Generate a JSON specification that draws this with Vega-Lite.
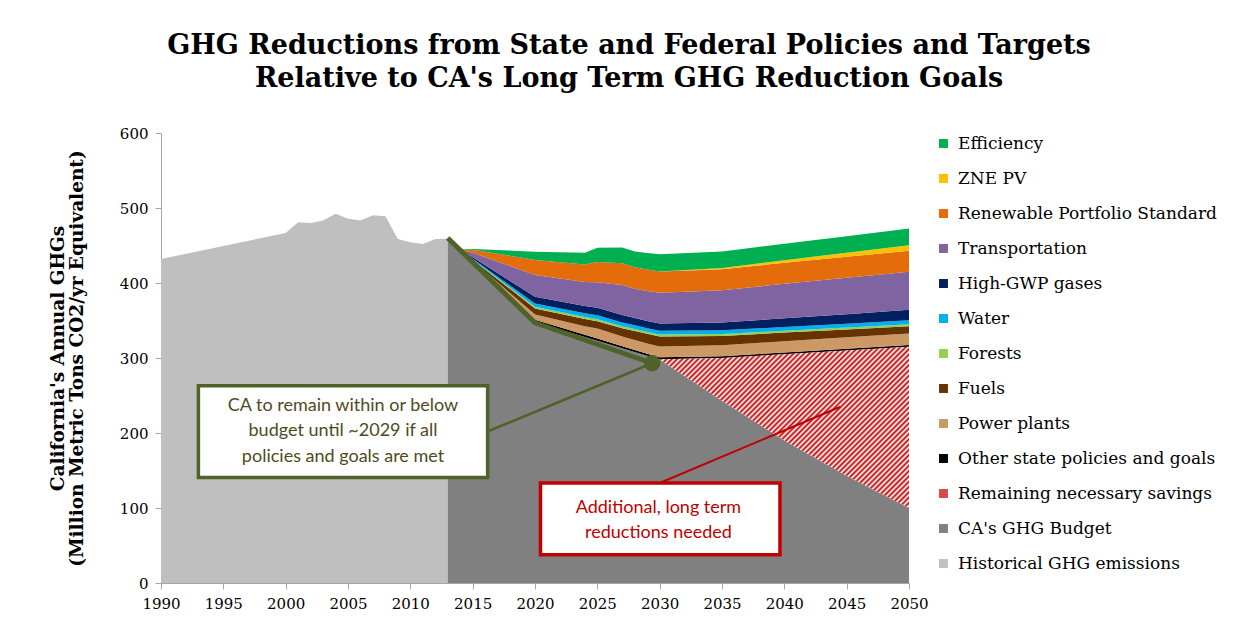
{
  "$schema": "https://vega.github.io/schema/vega-lite/v6.json",
  "width": 748,
  "height": 450,
  "autosize": {"type": "none"},
  "padding": {"left": 161, "top": 133, "right": 334, "bottom": 60},
  "background": "white",
  "config": {"view": {"stroke": null}, "font": "DejaVu Serif"},
  "title": {
    "text": ["GHG Reductions from State and Federal Policies and Targets", "Relative to CA's Long Term GHG Reduction Goals"],
    "font": "DejaVu Serif", "fontSize": 27, "fontWeight": "bold", "color": "#000",
    "anchor": "middle", "dx": 94, "offset": 33, "lineHeight": 33
  },
  "datasets": {
    "history": [
      {"year": 1990, "v": 432, "cat": "Historical GHG emissions"},
      {"year": 2000, "v": 466.7, "cat": "Historical GHG emissions"},
      {"year": 2001, "v": 481, "cat": "Historical GHG emissions"},
      {"year": 2002, "v": 480, "cat": "Historical GHG emissions"},
      {"year": 2003, "v": 483.5, "cat": "Historical GHG emissions"},
      {"year": 2004, "v": 492.4, "cat": "Historical GHG emissions"},
      {"year": 2005, "v": 485.7, "cat": "Historical GHG emissions"},
      {"year": 2006, "v": 483.5, "cat": "Historical GHG emissions"},
      {"year": 2007, "v": 490.2, "cat": "Historical GHG emissions"},
      {"year": 2008, "v": 488.9, "cat": "Historical GHG emissions"},
      {"year": 2009, "v": 458.7, "cat": "Historical GHG emissions"},
      {"year": 2010, "v": 454.2, "cat": "Historical GHG emissions"},
      {"year": 2011, "v": 452, "cat": "Historical GHG emissions"},
      {"year": 2012, "v": 458.7, "cat": "Historical GHG emissions"},
      {"year": 2013, "v": 459, "cat": "Historical GHG emissions"}
    ],
    "proj": [
      {"year": 2013, "cat": "CA's GHG Budget", "v": 459},
      {"year": 2014, "cat": "CA's GHG Budget", "v": 443},
      {"year": 2015, "cat": "CA's GHG Budget", "v": 428},
      {"year": 2020, "cat": "CA's GHG Budget", "v": 348},
      {"year": 2024, "cat": "CA's GHG Budget", "v": 328},
      {"year": 2025, "cat": "CA's GHG Budget", "v": 323},
      {"year": 2027, "cat": "CA's GHG Budget", "v": 313},
      {"year": 2028, "cat": "CA's GHG Budget", "v": 308},
      {"year": 2029, "cat": "CA's GHG Budget", "v": 303},
      {"year": 2030, "cat": "CA's GHG Budget", "v": 298},
      {"year": 2035, "cat": "CA's GHG Budget", "v": 243},
      {"year": 2040, "cat": "CA's GHG Budget", "v": 190},
      {"year": 2045, "cat": "CA's GHG Budget", "v": 143},
      {"year": 2050, "cat": "CA's GHG Budget", "v": 100},
      {"year": 2029, "cat": "Remaining necessary savings", "v": 0},
      {"year": 2030, "cat": "Remaining necessary savings", "v": 0.5},
      {"year": 2035, "cat": "Remaining necessary savings", "v": 57},
      {"year": 2040, "cat": "Remaining necessary savings", "v": 115},
      {"year": 2045, "cat": "Remaining necessary savings", "v": 167},
      {"year": 2050, "cat": "Remaining necessary savings", "v": 215},
      {"year": 2013, "cat": "Other state policies and goals", "v": 0},
      {"year": 2014, "cat": "Other state policies and goals", "v": 0.2},
      {"year": 2015, "cat": "Other state policies and goals", "v": 0.5},
      {"year": 2020, "cat": "Other state policies and goals", "v": 3},
      {"year": 2024, "cat": "Other state policies and goals", "v": 3},
      {"year": 2025, "cat": "Other state policies and goals", "v": 3},
      {"year": 2027, "cat": "Other state policies and goals", "v": 2.8},
      {"year": 2028, "cat": "Other state policies and goals", "v": 2.7},
      {"year": 2029, "cat": "Other state policies and goals", "v": 2.6},
      {"year": 2030, "cat": "Other state policies and goals", "v": 2.6},
      {"year": 2035, "cat": "Other state policies and goals", "v": 2.5},
      {"year": 2040, "cat": "Other state policies and goals", "v": 2.4},
      {"year": 2045, "cat": "Other state policies and goals", "v": 2.3},
      {"year": 2050, "cat": "Other state policies and goals", "v": 2.2},
      {"year": 2013, "cat": "Power plants", "v": 0},
      {"year": 2014, "cat": "Power plants", "v": 0.2},
      {"year": 2015, "cat": "Power plants", "v": 1.3},
      {"year": 2020, "cat": "Power plants", "v": 7},
      {"year": 2024, "cat": "Power plants", "v": 11.5},
      {"year": 2025, "cat": "Power plants", "v": 13.3},
      {"year": 2027, "cat": "Power plants", "v": 12.8},
      {"year": 2028, "cat": "Power plants", "v": 13.4},
      {"year": 2029, "cat": "Power plants", "v": 13.8},
      {"year": 2030, "cat": "Power plants", "v": 14.2},
      {"year": 2035, "cat": "Power plants", "v": 14.5},
      {"year": 2040, "cat": "Power plants", "v": 15},
      {"year": 2045, "cat": "Power plants", "v": 15.3},
      {"year": 2050, "cat": "Power plants", "v": 15.5},
      {"year": 2013, "cat": "Fuels", "v": 0},
      {"year": 2014, "cat": "Fuels", "v": 0.2},
      {"year": 2015, "cat": "Fuels", "v": 1.3},
      {"year": 2020, "cat": "Fuels", "v": 8},
      {"year": 2024, "cat": "Fuels", "v": 9.5},
      {"year": 2025, "cat": "Fuels", "v": 9.8},
      {"year": 2027, "cat": "Fuels", "v": 11.2},
      {"year": 2028, "cat": "Fuels", "v": 12},
      {"year": 2029, "cat": "Fuels", "v": 12.8},
      {"year": 2030, "cat": "Fuels", "v": 13.4},
      {"year": 2035, "cat": "Fuels", "v": 12.5},
      {"year": 2040, "cat": "Fuels", "v": 11.5},
      {"year": 2045, "cat": "Fuels", "v": 10.5},
      {"year": 2050, "cat": "Fuels", "v": 9.8},
      {"year": 2013, "cat": "Forests", "v": 0},
      {"year": 2014, "cat": "Forests", "v": 0.1},
      {"year": 2015, "cat": "Forests", "v": 0.4},
      {"year": 2020, "cat": "Forests", "v": 2.3},
      {"year": 2024, "cat": "Forests", "v": 2.6},
      {"year": 2025, "cat": "Forests", "v": 2.7},
      {"year": 2027, "cat": "Forests", "v": 2.6},
      {"year": 2028, "cat": "Forests", "v": 2.5},
      {"year": 2029, "cat": "Forests", "v": 2.5},
      {"year": 2030, "cat": "Forests", "v": 2.5},
      {"year": 2035, "cat": "Forests", "v": 2.5},
      {"year": 2040, "cat": "Forests", "v": 2.5},
      {"year": 2045, "cat": "Forests", "v": 2.5},
      {"year": 2050, "cat": "Forests", "v": 2.5},
      {"year": 2013, "cat": "Water", "v": 0},
      {"year": 2014, "cat": "Water", "v": 0.1},
      {"year": 2015, "cat": "Water", "v": 0.9},
      {"year": 2020, "cat": "Water", "v": 4.4},
      {"year": 2024, "cat": "Water", "v": 5},
      {"year": 2025, "cat": "Water", "v": 5.3},
      {"year": 2027, "cat": "Water", "v": 5},
      {"year": 2028, "cat": "Water", "v": 5},
      {"year": 2029, "cat": "Water", "v": 5},
      {"year": 2030, "cat": "Water", "v": 5},
      {"year": 2035, "cat": "Water", "v": 5},
      {"year": 2040, "cat": "Water", "v": 5},
      {"year": 2045, "cat": "Water", "v": 5.2},
      {"year": 2050, "cat": "Water", "v": 5.5},
      {"year": 2013, "cat": "High-GWP gases", "v": 0},
      {"year": 2014, "cat": "High-GWP gases", "v": 0.2},
      {"year": 2015, "cat": "High-GWP gases", "v": 1.8},
      {"year": 2020, "cat": "High-GWP gases", "v": 9},
      {"year": 2024, "cat": "High-GWP gases", "v": 9.6},
      {"year": 2025, "cat": "High-GWP gases", "v": 9.8},
      {"year": 2027, "cat": "High-GWP gases", "v": 9.8},
      {"year": 2028, "cat": "High-GWP gases", "v": 9.8},
      {"year": 2029, "cat": "High-GWP gases", "v": 9.7},
      {"year": 2030, "cat": "High-GWP gases", "v": 9.7},
      {"year": 2035, "cat": "High-GWP gases", "v": 10.5},
      {"year": 2040, "cat": "High-GWP gases", "v": 11.5},
      {"year": 2045, "cat": "High-GWP gases", "v": 12.7},
      {"year": 2050, "cat": "High-GWP gases", "v": 13.8},
      {"year": 2013, "cat": "Transportation", "v": 0},
      {"year": 2014, "cat": "Transportation", "v": 0.5},
      {"year": 2015, "cat": "Transportation", "v": 6.2},
      {"year": 2020, "cat": "Transportation", "v": 29},
      {"year": 2024, "cat": "Transportation", "v": 32},
      {"year": 2025, "cat": "Transportation", "v": 34},
      {"year": 2027, "cat": "Transportation", "v": 40},
      {"year": 2028, "cat": "Transportation", "v": 39},
      {"year": 2029, "cat": "Transportation", "v": 40},
      {"year": 2030, "cat": "Transportation", "v": 41},
      {"year": 2035, "cat": "Transportation", "v": 43},
      {"year": 2040, "cat": "Transportation", "v": 46},
      {"year": 2045, "cat": "Transportation", "v": 48.5},
      {"year": 2050, "cat": "Transportation", "v": 50.6},
      {"year": 2013, "cat": "Renewable Portfolio Standard", "v": 0},
      {"year": 2014, "cat": "Renewable Portfolio Standard", "v": 0.5},
      {"year": 2015, "cat": "Renewable Portfolio Standard", "v": 4},
      {"year": 2020, "cat": "Renewable Portfolio Standard", "v": 20},
      {"year": 2024, "cat": "Renewable Portfolio Standard", "v": 23.5},
      {"year": 2025, "cat": "Renewable Portfolio Standard", "v": 27},
      {"year": 2027, "cat": "Renewable Portfolio Standard", "v": 29},
      {"year": 2028, "cat": "Renewable Portfolio Standard", "v": 28.5},
      {"year": 2029, "cat": "Renewable Portfolio Standard", "v": 28.5},
      {"year": 2030, "cat": "Renewable Portfolio Standard", "v": 28.4},
      {"year": 2035, "cat": "Renewable Portfolio Standard", "v": 28},
      {"year": 2040, "cat": "Renewable Portfolio Standard", "v": 28},
      {"year": 2045, "cat": "Renewable Portfolio Standard", "v": 28},
      {"year": 2050, "cat": "Renewable Portfolio Standard", "v": 28},
      {"year": 2013, "cat": "ZNE PV", "v": 0},
      {"year": 2014, "cat": "ZNE PV", "v": 0},
      {"year": 2015, "cat": "ZNE PV", "v": 0},
      {"year": 2020, "cat": "ZNE PV", "v": 0},
      {"year": 2024, "cat": "ZNE PV", "v": 0},
      {"year": 2025, "cat": "ZNE PV", "v": 0},
      {"year": 2027, "cat": "ZNE PV", "v": 0},
      {"year": 2028, "cat": "ZNE PV", "v": 0},
      {"year": 2029, "cat": "ZNE PV", "v": 0},
      {"year": 2030, "cat": "ZNE PV", "v": 0},
      {"year": 2035, "cat": "ZNE PV", "v": 1.5},
      {"year": 2040, "cat": "ZNE PV", "v": 3.5},
      {"year": 2045, "cat": "ZNE PV", "v": 5.5},
      {"year": 2050, "cat": "ZNE PV", "v": 7.6},
      {"year": 2013, "cat": "Efficiency", "v": 0},
      {"year": 2014, "cat": "Efficiency", "v": 0.3},
      {"year": 2015, "cat": "Efficiency", "v": 1},
      {"year": 2020, "cat": "Efficiency", "v": 11},
      {"year": 2024, "cat": "Efficiency", "v": 15.5},
      {"year": 2025, "cat": "Efficiency", "v": 19},
      {"year": 2027, "cat": "Efficiency", "v": 21},
      {"year": 2028, "cat": "Efficiency", "v": 21},
      {"year": 2029, "cat": "Efficiency", "v": 22},
      {"year": 2030, "cat": "Efficiency", "v": 23},
      {"year": 2035, "cat": "Efficiency", "v": 22},
      {"year": 2040, "cat": "Efficiency", "v": 22},
      {"year": 2045, "cat": "Efficiency", "v": 22},
      {"year": 2050, "cat": "Efficiency", "v": 22.2}
    ],
    "gline": [{"year": 2013, "v": 460}, {"year": 2020, "v": 347}, {"year": 2029.4, "v": 293}],
    "gconn": [{"year": 2029.4, "v": 293}, {"year": 2016.2, "v": 202}],
    "rconn": [{"year": 2030.1, "v": 134}, {"year": 2044.5, "v": 235}],
    "gdot": [{"year": 2029.4, "v": 293}],
    "gbox": [{"year": 1993.0, "year2": 2016.2, "v": 140.8, "v2": 263.1, "label": "CA to remain within or below\nbudget until ~2029 if all\npolicies and goals are met", "cx": 2004.6, "cy": 236.4}],
    "rbox": [{"year": 2020.44, "year2": 2039.65, "v": 37.7, "v2": 133.3, "label": "Additional, long term\nreductions needed", "cx": 2029.9, "cy": 100}]
  },
  "encoding": {
    "x": {
      "field": "year", "type": "quantitative",
      "scale": {"domain": [1990, 2050], "nice": false, "zero": false},
      "axis": {
        "values": [1990, 1995, 2000, 2005, 2010, 2015, 2020, 2025, 2030, 2035, 2040, 2045, 2050],
        "format": "d", "title": null, "grid": false,
        "labelFont": "DejaVu Serif", "labelFontSize": 15, "labelColor": "#000",
        "tickSize": 6, "tickColor": "#a6a6a6", "domainColor": "#a6a6a6",
        "labelPadding": 7, "labelFlush": false, "labelOverlap": false
      }
    }
  },
  "layer": [
    {
      "data": {"name": "history"},
      "mark": {"type": "area", "interpolate": "linear", "opacity": 1},
      "encoding": {
        "y": {
          "field": "v", "type": "quantitative",
          "scale": {"domain": [0, 600], "nice": false, "zero": true},
          "axis": {
            "values": [0, 100, 200, 300, 400, 500, 600],
            "title": ["California's Annual GHGs", "(Million Metric Tons CO2/yr Equivalent)"],
            "titleFont": "DejaVu Serif", "titleFontSize": 18.5, "titleFontWeight": "bold", "titleColor": "#000",
            "titleAngle": -90, "titleX": -104, "titleY": 225, "titleAlign": "center", "titleBaseline": "middle", "titleLineHeight": 19,
            "labelFont": "DejaVu Serif", "labelFontSize": 15, "labelColor": "#000",
            "grid": false, "tickSize": 6, "tickColor": "#a6a6a6", "domainColor": "#a6a6a6", "labelPadding": 7
          }
        },
        "color": {
          "field": "cat", "type": "nominal",
          "scale": {
            "domain": ["Efficiency", "ZNE PV", "Renewable Portfolio Standard", "Transportation", "High-GWP gases", "Water", "Forests", "Fuels", "Power plants", "Other state policies and goals", "Remaining necessary savings", "CA's GHG Budget", "Historical GHG emissions"],
            "range": ["#00b050", "#ffc000", "#e46c0a", "#8064a2", "#002060", "#00b0f0", "#92d050", "#663300", "#cc9966", "#000000", "#d84848", "#808080", "#bfbfbf"]
          },
          "legend": {
            "title": null, "orient": "none", "legendX": 774, "legendY": 2,
            "symbolType": "square", "symbolSize": 80, "symbolStrokeWidth": 0, "symbolOpacity": 1,
            "labelFont": "DejaVu Serif", "labelFontSize": 17, "labelColor": "#000", "labelLimit": 400,
            "rowPadding": 17, "labelOffset": 6
          }
        }
      }
    },
    {
      "data": {"name": "proj"},
      "transform": [
        {"calculate": "indexof([\"CA's GHG Budget\", \"Remaining necessary savings\", \"Other state policies and goals\", \"Power plants\", \"Fuels\", \"Forests\", \"Water\", \"High-GWP gases\", \"Transportation\", \"Renewable Portfolio Standard\", \"ZNE PV\", \"Efficiency\"], datum.cat)", "as": "ord"},
        {"stack": "v", "groupby": ["year"], "sort": [{"field": "ord", "order": "ascending"}], "as": ["y0", "y1"]},
        {"filter": "datum.cat !== 'Remaining necessary savings'"}
      ],
      "mark": {"type": "area", "interpolate": "linear", "opacity": 1},
      "encoding": {
        "y": {"field": "y1", "type": "quantitative", "scale": {"domain": [0, 600], "nice": false, "zero": true}},
        "y2": {"field": "y0"},
        "color": {
          "field": "cat", "type": "nominal",
          "scale": {
            "domain": ["Efficiency", "ZNE PV", "Renewable Portfolio Standard", "Transportation", "High-GWP gases", "Water", "Forests", "Fuels", "Power plants", "Other state policies and goals", "Remaining necessary savings", "CA's GHG Budget", "Historical GHG emissions"],
            "range": ["#00b050", "#ffc000", "#e46c0a", "#8064a2", "#002060", "#00b0f0", "#92d050", "#663300", "#cc9966", "#000000", "#d84848", "#808080", "#bfbfbf"]
          },
          "legend": {
            "title": null, "orient": "none", "legendX": 774, "legendY": 2,
            "symbolType": "square", "symbolSize": 80, "symbolStrokeWidth": 0, "symbolOpacity": 1,
            "labelFont": "DejaVu Serif", "labelFontSize": 17, "labelColor": "#000", "labelLimit": 400,
            "rowPadding": 17, "labelOffset": 6
          }
        }
      }
    },
    {
      "data": {"name": "proj"},
      "transform": [
        {"calculate": "indexof([\"CA's GHG Budget\", \"Remaining necessary savings\", \"Other state policies and goals\", \"Power plants\", \"Fuels\", \"Forests\", \"Water\", \"High-GWP gases\", \"Transportation\", \"Renewable Portfolio Standard\", \"ZNE PV\", \"Efficiency\"], datum.cat)", "as": "ord"},
        {"stack": "v", "groupby": ["year"], "sort": [{"field": "ord", "order": "ascending"}], "as": ["y0", "y1"]},
        {"filter": "datum.cat === 'Remaining necessary savings'"}
      ],
      "mark": {
        "type": "area", "interpolate": "linear", "opacity": 1, "strokeWidth": 0,
        "fill": {"gradient": "linear", "x1": 0, "y1": 0, "x2": 1.172, "y2": 0.72, "stops": [
          {"offset": 0, "color": "#c00000"}, {"offset": 0.00625, "color": "#fff"}, {"offset": 0.0125, "color": "#c00000"}, {"offset": 0.01875, "color": "#fff"},
          {"offset": 0.025, "color": "#c00000"}, {"offset": 0.03125, "color": "#fff"}, {"offset": 0.0375, "color": "#c00000"}, {"offset": 0.04375, "color": "#fff"},
          {"offset": 0.05, "color": "#c00000"}, {"offset": 0.05625, "color": "#fff"}, {"offset": 0.0625, "color": "#c00000"}, {"offset": 0.06875, "color": "#fff"},
          {"offset": 0.075, "color": "#c00000"}, {"offset": 0.08125, "color": "#fff"}, {"offset": 0.0875, "color": "#c00000"}, {"offset": 0.09375, "color": "#fff"},
          {"offset": 0.1, "color": "#c00000"}, {"offset": 0.10625, "color": "#fff"}, {"offset": 0.1125, "color": "#c00000"}, {"offset": 0.11875, "color": "#fff"},
          {"offset": 0.125, "color": "#c00000"}, {"offset": 0.13125, "color": "#fff"}, {"offset": 0.1375, "color": "#c00000"}, {"offset": 0.14375, "color": "#fff"},
          {"offset": 0.15, "color": "#c00000"}, {"offset": 0.15625, "color": "#fff"}, {"offset": 0.1625, "color": "#c00000"}, {"offset": 0.16875, "color": "#fff"},
          {"offset": 0.175, "color": "#c00000"}, {"offset": 0.18125, "color": "#fff"}, {"offset": 0.1875, "color": "#c00000"}, {"offset": 0.19375, "color": "#fff"},
          {"offset": 0.2, "color": "#c00000"}, {"offset": 0.20625, "color": "#fff"}, {"offset": 0.2125, "color": "#c00000"}, {"offset": 0.21875, "color": "#fff"},
          {"offset": 0.225, "color": "#c00000"}, {"offset": 0.23125, "color": "#fff"}, {"offset": 0.2375, "color": "#c00000"}, {"offset": 0.24375, "color": "#fff"},
          {"offset": 0.25, "color": "#c00000"}, {"offset": 0.25625, "color": "#fff"}, {"offset": 0.2625, "color": "#c00000"}, {"offset": 0.26875, "color": "#fff"},
          {"offset": 0.275, "color": "#c00000"}, {"offset": 0.28125, "color": "#fff"}, {"offset": 0.2875, "color": "#c00000"}, {"offset": 0.29375, "color": "#fff"},
          {"offset": 0.3, "color": "#c00000"}, {"offset": 0.30625, "color": "#fff"}, {"offset": 0.3125, "color": "#c00000"}, {"offset": 0.31875, "color": "#fff"},
          {"offset": 0.325, "color": "#c00000"}, {"offset": 0.33125, "color": "#fff"}, {"offset": 0.3375, "color": "#c00000"}, {"offset": 0.34375, "color": "#fff"},
          {"offset": 0.35, "color": "#c00000"}, {"offset": 0.35625, "color": "#fff"}, {"offset": 0.3625, "color": "#c00000"}, {"offset": 0.36875, "color": "#fff"},
          {"offset": 0.375, "color": "#c00000"}, {"offset": 0.38125, "color": "#fff"}, {"offset": 0.3875, "color": "#c00000"}, {"offset": 0.39375, "color": "#fff"},
          {"offset": 0.4, "color": "#c00000"}, {"offset": 0.40625, "color": "#fff"}, {"offset": 0.4125, "color": "#c00000"}, {"offset": 0.41875, "color": "#fff"},
          {"offset": 0.425, "color": "#c00000"}, {"offset": 0.43125, "color": "#fff"}, {"offset": 0.4375, "color": "#c00000"}, {"offset": 0.44375, "color": "#fff"},
          {"offset": 0.45, "color": "#c00000"}, {"offset": 0.45625, "color": "#fff"}, {"offset": 0.4625, "color": "#c00000"}, {"offset": 0.46875, "color": "#fff"},
          {"offset": 0.475, "color": "#c00000"}, {"offset": 0.48125, "color": "#fff"}, {"offset": 0.4875, "color": "#c00000"}, {"offset": 0.49375, "color": "#fff"},
          {"offset": 0.5, "color": "#c00000"}, {"offset": 0.50625, "color": "#fff"}, {"offset": 0.5125, "color": "#c00000"}, {"offset": 0.51875, "color": "#fff"},
          {"offset": 0.525, "color": "#c00000"}, {"offset": 0.53125, "color": "#fff"}, {"offset": 0.5375, "color": "#c00000"}, {"offset": 0.54375, "color": "#fff"},
          {"offset": 0.55, "color": "#c00000"}, {"offset": 0.55625, "color": "#fff"}, {"offset": 0.5625, "color": "#c00000"}, {"offset": 0.56875, "color": "#fff"},
          {"offset": 0.575, "color": "#c00000"}, {"offset": 0.58125, "color": "#fff"}, {"offset": 0.5875, "color": "#c00000"}, {"offset": 0.59375, "color": "#fff"},
          {"offset": 0.6, "color": "#c00000"}, {"offset": 0.60625, "color": "#fff"}, {"offset": 0.6125, "color": "#c00000"}, {"offset": 0.61875, "color": "#fff"},
          {"offset": 0.625, "color": "#c00000"}, {"offset": 0.63125, "color": "#fff"}, {"offset": 0.6375, "color": "#c00000"}, {"offset": 0.64375, "color": "#fff"},
          {"offset": 0.65, "color": "#c00000"}, {"offset": 0.65625, "color": "#fff"}, {"offset": 0.6625, "color": "#c00000"}, {"offset": 0.66875, "color": "#fff"},
          {"offset": 0.675, "color": "#c00000"}, {"offset": 0.68125, "color": "#fff"}, {"offset": 0.6875, "color": "#c00000"}, {"offset": 0.69375, "color": "#fff"},
          {"offset": 0.7, "color": "#c00000"}, {"offset": 0.70625, "color": "#fff"}, {"offset": 0.7125, "color": "#c00000"}, {"offset": 0.71875, "color": "#fff"},
          {"offset": 0.725, "color": "#c00000"}, {"offset": 0.73125, "color": "#fff"}, {"offset": 0.7375, "color": "#c00000"}, {"offset": 0.74375, "color": "#fff"},
          {"offset": 0.75, "color": "#c00000"}, {"offset": 0.75625, "color": "#fff"}, {"offset": 0.7625, "color": "#c00000"}, {"offset": 0.76875, "color": "#fff"},
          {"offset": 0.775, "color": "#c00000"}, {"offset": 0.78125, "color": "#fff"}, {"offset": 0.7875, "color": "#c00000"}, {"offset": 0.79375, "color": "#fff"},
          {"offset": 0.8, "color": "#c00000"}, {"offset": 0.80625, "color": "#fff"}, {"offset": 0.8125, "color": "#c00000"}, {"offset": 0.81875, "color": "#fff"},
          {"offset": 0.825, "color": "#c00000"}, {"offset": 0.83125, "color": "#fff"}, {"offset": 0.8375, "color": "#c00000"}, {"offset": 0.84375, "color": "#fff"},
          {"offset": 0.85, "color": "#c00000"}, {"offset": 0.85625, "color": "#fff"}, {"offset": 0.8625, "color": "#c00000"}, {"offset": 0.86875, "color": "#fff"},
          {"offset": 0.875, "color": "#c00000"}, {"offset": 0.88125, "color": "#fff"}, {"offset": 0.8875, "color": "#c00000"}, {"offset": 0.89375, "color": "#fff"},
          {"offset": 0.9, "color": "#c00000"}, {"offset": 0.90625, "color": "#fff"}, {"offset": 0.9125, "color": "#c00000"}, {"offset": 0.91875, "color": "#fff"},
          {"offset": 0.925, "color": "#c00000"}, {"offset": 0.93125, "color": "#fff"}, {"offset": 0.9375, "color": "#c00000"}, {"offset": 0.94375, "color": "#fff"},
          {"offset": 0.95, "color": "#c00000"}, {"offset": 0.95625, "color": "#fff"}, {"offset": 0.9625, "color": "#c00000"}, {"offset": 0.96875, "color": "#fff"},
          {"offset": 0.975, "color": "#c00000"}, {"offset": 0.98125, "color": "#fff"}, {"offset": 0.9875, "color": "#c00000"}, {"offset": 0.99375, "color": "#fff"},
          {"offset": 1, "color": "#c00000"}]}
      },
      "encoding": {
        "y": {"field": "y1", "type": "quantitative", "scale": {"domain": [0, 600], "nice": false, "zero": true}},
        "y2": {"field": "y0"}
      }
    },
    {
      "data": {"name": "gline"},
      "mark": {"type": "line", "color": "#4f6228", "strokeWidth": 5, "strokeJoin": "round"},
      "encoding": {"y": {"field": "v", "type": "quantitative"}}
    },
    {
      "data": {"name": "gconn"},
      "mark": {"type": "line", "color": "#4f6228", "strokeWidth": 2.5},
      "encoding": {"y": {"field": "v", "type": "quantitative"}}
    },
    {
      "data": {"name": "gdot"},
      "mark": {"type": "point", "filled": true, "color": "#4f6228", "size": 270, "opacity": 1},
      "encoding": {"y": {"field": "v", "type": "quantitative"}}
    },
    {
      "data": {"name": "rconn"},
      "mark": {"type": "line", "color": "#c00000", "strokeWidth": 2},
      "encoding": {"y": {"field": "v", "type": "quantitative"}}
    },
    {
      "data": {"name": "gbox"},
      "mark": {"type": "rect", "fill": "#ffffff", "stroke": "#4f6228", "strokeWidth": 3.5},
      "encoding": {"x2": {"field": "year2"}, "y": {"field": "v", "type": "quantitative"}, "y2": {"field": "v2"}}
    },
    {
      "data": {"name": "gbox"},
      "mark": {"type": "text", "font": "Lato", "fontSize": 18, "color": "#4f4a1e", "lineBreak": "\n", "lineHeight": 25.5, "align": "center", "baseline": "middle"},
      "encoding": {
        "x": {"field": "cx", "type": "quantitative"},
        "y": {"field": "cy", "type": "quantitative"},
        "text": {"field": "label"}
      }
    },
    {
      "data": {"name": "rbox"},
      "mark": {"type": "rect", "fill": "#ffffff", "stroke": "#c00000", "strokeWidth": 3.5},
      "encoding": {"x2": {"field": "year2"}, "y": {"field": "v", "type": "quantitative"}, "y2": {"field": "v2"}}
    },
    {
      "data": {"name": "rbox"},
      "mark": {"type": "text", "font": "Lato", "fontSize": 18, "color": "#c00000", "lineBreak": "\n", "lineHeight": 24.5, "align": "center", "baseline": "middle"},
      "encoding": {
        "x": {"field": "cx", "type": "quantitative"},
        "y": {"field": "cy", "type": "quantitative"},
        "text": {"field": "label"}
      }
    }
  ]
}
